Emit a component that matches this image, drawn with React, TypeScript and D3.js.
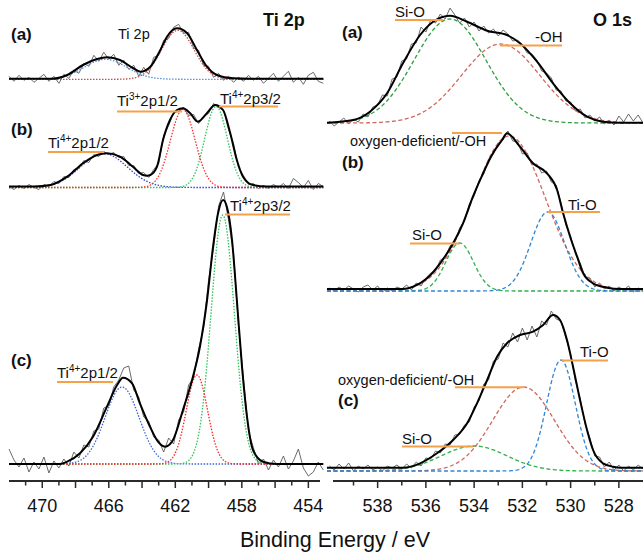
import React from "react";
import * as d3 from "d3";

// raw spectra: energy grids (eV) and intensities above each baseline (a.u.)
const tiEnergy = d3.range(64).map((i) => 472 - 0.3 * i);
const oEnergy = d3.range(66).map((i) => 540 - 0.2 * i);

const tiRawA = [3, -2, 4, -1, 2, -3, 1, 5, -2, 3, -4, 5, 1, 9, 6, 16, 13, 24, 18, 27, 20, 25, 14, 19, 10, 14, 3, 12, 5, 22, 24, 39, 41, 52, 55, 46, 47, 31, 29, 14, 13, 2, 6, -1, 3, -3, 2, -2, 4, -1, 3, -4, 1, 6, -2, 3, 8, -3, 2, -5, 4, 7, -2, -4];
const tiRawB = [1, -2, 2, -1, 3, 0, -2, 3, 1, 6, 4, 11, 10, 18, 19, 27, 25, 33, 31, 36, 33, 35, 30, 31, 22, 22, 14, 15, 10, 18, 24, 52, 62, 75, 76, 80, 72, 73, 64, 71, 74, 84, 80, 77, 58, 44, 20, 12, 3, 4, -1, 2, -1, 3, 0, 4, -1, 9, 5, 0, 7, -2, 4, 1];
const tiRawC = [15, 4, -3, 6, -8, 2, -5, 7, -9, 3, -4, 5, -2, 12, 6, 19, 17, 33, 35, 56, 58, 77, 84, 96, 98, 74, 67, 47, 43, 27, 24, 12, 26, 20, 44, 52, 79, 86, 115, 136, 184, 216, 258, 272, 244, 210, 138, 85, 33, 16, 0, 5, -6, 4, -3, 8, -5, 3, 15, -4, -12, -8, 2, -6];

const oRawA = [2, -3, 1, 5, -1, 4, 1, 9, 6, 16, 18, 28, 27, 44, 46, 62, 64, 79, 80, 96, 91, 103, 100, 109, 104, 115, 108, 100, 105, 96, 101, 92, 97, 90, 94, 87, 93, 89, 82, 83, 78, 70, 69, 63, 52, 50, 45, 33, 32, 22, 21, 12, 14, 5, 8, 2, 6, -1, 3, -2, 7, 1, 9, 2, 8, 0];
const oRawB = [3, 0, 4, 1, 5, 2, -1, 4, 6, 1, 5, -1, 3, 0, 4, 2, 6, 1, 8, 5, 13, 18, 20, 31, 34, 45, 49, 63, 70, 87, 95, 110, 117, 132, 137, 148, 151, 160, 150, 149, 137, 138, 126, 127, 118, 120, 109, 106, 88, 66, 55, 37, 28, 14, 13, 4, 8, 2, 5, 0, 4, 1, 5, -1, 3, 0];
const oRawC = [5, 1, 7, 2, 8, 0, 5, 2, 6, 1, 4, 0, 5, 3, 6, 2, 7, 3, 9, 5, 13, 12, 20, 18, 27, 26, 36, 37, 46, 49, 64, 70, 87, 91, 110, 112, 128, 124, 138, 129, 143, 131, 145, 134, 150, 146, 160, 152, 150, 133, 117, 90, 72, 47, 33, 15, 14, 4, 9, 1, 6, 0, 5, 1, 6, 2];

// fitted envelopes [eV, intensity]
const tiFitA: [number, number][] = [[472, 0.5], [469.5, 0.5], [468.5, 4.3], [467.55, 14.3], [466.7, 20.3], [466.1, 22], [465.33, 19.3], [464.55, 11.3], [464.1, 7.6], [463.5, 12.6], [462.9, 29.3], [462.5, 42.6], [461.9, 51], [461.3, 46.3], [460.7, 29.3], [460.1, 12.6], [459.5, 4.3], [458.5, 1], [457.5, 0.5], [453.1, 0.5]];
const tiFitB: [number, number][] = [[472, 1], [470.5, 1], [469.5, 2.5], [468.5, 10.8], [467.55, 24.2], [466.7, 32.5], [466.1, 34.2], [465.33, 30.8], [464.55, 20.8], [463.94, 12.5], [463.7, 11.8], [463.5, 12.5], [463.1, 20.8], [462.74, 47.5], [462.32, 67.5], [461.9, 77.5], [461.54, 79.2], [461.12, 74.5], [460.64, 65.8], [460.09, 74.5], [459.61, 82.5], [459.13, 77.5], [458.7, 54.5], [458.3, 27.5], [457.93, 10.8], [457.33, 2.5], [456.5, 1], [453.1, 1]];
const tiFitC: [number, number][] = [[472, 0], [468.93, 0], [468.5, 2.3], [467.73, 10.7], [466.95, 27.3], [466.11, 57.3], [465.5, 79], [465.15, 86.3], [464.6, 80.7], [464.13, 60.7], [463.52, 37.3], [463.04, 22.3], [462.62, 17.3], [462.14, 24], [461.54, 54], [460.94, 87.3], [460.52, 117.3], [460.09, 164], [459.73, 217.3], [459.43, 250.7], [459.13, 264], [458.9, 257.3], [458.59, 224], [458.3, 164], [457.99, 97.3], [457.69, 47.3], [457.33, 14], [456.73, 2.3], [455.9, 0], [453.1, 0]];

const oFitA: [number, number][] = [[540.1, 0.3], [539.0, 3], [538.32, 11.3], [537.61, 29.7], [536.95, 59.7], [536.24, 88], [535.7, 101.3], [535.0, 107.3], [534.29, 101.3], [533.46, 92.3], [532.64, 88], [532.1, 79.7], [531.39, 61.3], [530.73, 39.7], [530.02, 19.7], [529.32, 6.3], [528.66, 1.3], [527.95, 0.3], [527.0, 0.3]];
const oFitB: [number, number][] = [[540.1, 2], [536.95, 2], [536.53, 4.3], [535.95, 12.7], [535.41, 27.7], [534.87, 47.7], [534.46, 67.7], [534.05, 94.3], [533.63, 117.7], [533.22, 137.7], [532.84, 151], [532.64, 157.7], [532.1, 144.3], [531.56, 127.7], [530.98, 117.7], [530.56, 101], [530.31, 77.7], [530.02, 54.3], [529.73, 34.3], [529.48, 17.7], [529.07, 7.7], [528.49, 3.3], [527.95, 2], [527.0, 2]];
const oFitC: [number, number][] = [[540.1, 3.3], [536.95, 3.3], [536.24, 7.7], [535.54, 17.7], [534.87, 31], [534.29, 47.7], [533.88, 67.7], [533.46, 91], [533.05, 114.3], [532.64, 127.7], [532.1, 136], [531.56, 139.3], [531.14, 146], [530.73, 156], [530.44, 151], [530.15, 131], [529.9, 104.3], [529.61, 71], [529.32, 41], [529.07, 21], [528.66, 7.7], [528.24, 4.3], [527.95, 3.3], [527.0, 3.3]];

// gaussian components: centre (eV), fwhm (eV), height
const tiCenters = [[466.2, 461.85], [466.3, 459.55, 461.55], [465.2, 459.15, 460.7]];
const tiFwhm = [[3.0, 2.3], [3.3, 1.6, 1.75], [2.4, 1.65, 1.5]];
const tiHeights = [[20, 49], [34, 81, 78], [77, 249, 89]];
const oCenters = [[535.0, 532.9], [534.6, 532.55, 530.95], [534.0, 531.95, 530.4]];
const oFwhm = [[3.5, 3.8], [1.35, 3.5, 1.65], [3.2, 3.0, 1.4]];
const oHeights = [[104, 79], [48, 155, 79], [25, 84, 111]];

const tiTicks = d3.range(454, 472);
const tiTickLabels = [470, 466, 462, 458, 454];
const oTicks = d3.range(528, 540);
const oTickLabels = [538, 536, 534, 532, 530, 528];

const xTi = d3.scaleLinear().domain([472, 453.3]).range([9, 320]);
const xO = d3.scaleLinear().domain([539.85, 527]).range([333, 643]);
const yScale = d3.scaleLinear().domain([0, 481]).range([481, 0]);

const tiOffsets = [401.7, 293.5, 17];
const oOffsets = [358, 190, 10];
const tiColors = [["#5a8ee0", "#c0504d"], ["#3442d8", "#2ec45a", "#ff2d2d"], ["#3a64dc", "#2fc257", "#ff2424"]];
const oColors = [["#2f9e3f", "#d0675d"], ["#2fb04a", "#d0675d", "#2e86d6"], ["#2fb04a", "#d0675d", "#2e86d6"]];
const ORANGE = "#f5a04a";

const gauss = (e: number, c: number, w: number, h: number) => h * Math.exp((-4 * Math.LN2 * (e - c) * (e - c)) / (w * w));

function Spectrum({ x, off, energy, raw, fit, centers, fwhm, heights, colors, dash, grid }: any) {
  const y = (v: number) => yScale(off + v);
  const line = d3.line<[number, number]>().x((d) => x(d[0])).y((d) => y(d[1]));
  const smooth = d3.line<[number, number]>().x((d) => x(d[0])).y((d) => y(d[1])).curve(d3.curveMonotoneX);
  const rawPts = energy.map((e: number, i: number) => [e, raw[i]] as [number, number]);
  return (
    <g>
      <path d={line(rawPts) || ""} fill="none" stroke="#5a5a5a" strokeWidth={0.9} strokeLinejoin="round" />
      {centers.map((c: number, j: number) => (
        <path
          key={j}
          d={line(grid.map((e: number) => [e, gauss(e, c, fwhm[j], heights[j])] as [number, number])) || ""}
          fill="none"
          stroke={colors[j]}
          strokeWidth={1.3}
          strokeDasharray={dash}
        />
      ))}
      <path d={smooth(fit) || ""} fill="none" stroke="#000" strokeWidth={2} />
    </g>
  );
}

const TiLabel = ({ x, y, ion, orbital }: any) => (
  <text x={x} y={y} fontSize={15}>
    Ti<tspan dy={-6} fontSize={10}>{ion}</tspan>
    <tspan dy={6}>{orbital}</tspan>
  </text>
);

const Under = ({ x1, x2, y }: any) => <line x1={x1} x2={x2} y1={y} y2={y} stroke={ORANGE} strokeWidth={2} />;

export default function App() {
  const tiGrid = d3.range(472, 453.05, -0.05);
  const oGrid = d3.range(540.1, 526.95, -0.05);
  const tiRaw = [tiRawA, tiRawB, tiRawC];
  const tiFit = [tiFitA, tiFitB, tiFitC];
  const oRaw = [oRawA, oRawB, oRawC];
  const oFit = [oFitA, oFitB, oFitC];

  return (
    <svg
      width={643}
      height={553}
      style={{ position: "absolute", left: 0, top: 0, background: "#fff" }}
      fontFamily="'Liberation Sans', Arial, Helvetica, sans-serif"
      fill="#111"
    >
      {tiOffsets.map((off, k) => (
        <Spectrum key={"ti" + k} x={xTi} off={off} energy={tiEnergy} raw={tiRaw[k]} fit={tiFit[k]}
          centers={tiCenters[k]} fwhm={tiFwhm[k]} heights={tiHeights[k]} colors={tiColors[k]} dash="1.5 1.5" grid={tiGrid} />
      ))}
      {oOffsets.map((off, k) => (
        <Spectrum key={"o" + k} x={xO} off={off} energy={oEnergy} raw={oRaw[k]} fit={oFit[k]}
          centers={oCenters[k]} fwhm={oFwhm[k]} heights={oHeights[k]} colors={oColors[k]} dash="4 2.5" grid={oGrid} />
      ))}

      {/* axes */}
      <line x1={9} x2={320} y1={481} y2={481} stroke="#2a2a2a" strokeWidth={2} />
      <line x1={333} x2={643} y1={481} y2={481} stroke="#2a2a2a" strokeWidth={2} />
      {tiTicks.map((t) => (
        <line key={"tt" + t} x1={xTi(t)} x2={xTi(t)} y1={481} y2={481 + (t % 2 === 0 ? 7 : 4.5)} stroke="#2a2a2a" strokeWidth={1.5} />
      ))}
      {oTicks.map((t) => (
        <line key={"ot" + t} x1={xO(t)} x2={xO(t)} y1={481} y2={481 + (t % 2 === 0 ? 7 : 4.5)} stroke="#2a2a2a" strokeWidth={1.5} />
      ))}
      {tiTickLabels.map((t) => (
        <text key={"tl" + t} x={xTi(t)} y={512} fontSize={18} textAnchor="middle">{t}</text>
      ))}
      {oTickLabels.map((t) => (
        <text key={"ol" + t} x={xO(t)} y={512} fontSize={18} textAnchor="middle">{t}</text>
      ))}
      <text x={335} y={547} fontSize={21.5} textAnchor="middle">Binding Energy / eV</text>

      {/* Ti 2p labels */}
      <text x={263} y={26} fontSize={18} fontWeight="bold">Ti 2p</text>
      <text x={11} y={40} fontSize={17} fontWeight="bold">(a)</text>
      <text x={118} y={39} fontSize={14.5}>Ti 2p</text>
      <text x={11} y={135} fontSize={17} fontWeight="bold">(b)</text>
      <Under x1={117} x2={182} y={111.5} />
      <TiLabel x={117} y={106} ion="3+" orbital="2p1/2" />
      <Under x1={219} x2={278} y={106.5} />
      <TiLabel x={220} y={104} ion="4+" orbital="2p3/2" />
      <Under x1={48} x2={104} y={152} />
      <TiLabel x={48} y={148} ion="4+" orbital="2p1/2" />
      <text x={11} y={366} fontSize={17} fontWeight="bold">(c)</text>
      <Under x1={57} x2={113} y={382} />
      <TiLabel x={57} y={378} ion="4+" orbital="2p1/2" />
      <Under x1={225} x2={290} y={214.5} />
      <TiLabel x={230} y={211} ion="4+" orbital="2p3/2" />

      {/* O 1s labels */}
      <text x={593} y={26} fontSize={18} fontWeight="bold">O 1s</text>
      <text x={342} y={38} fontSize={17} fontWeight="bold">(a)</text>
      <Under x1={395} x2={443} y={20} />
      <text x={395} y={17} fontSize={15}>Si-O</text>
      <Under x1={500} x2={562} y={45.5} />
      <text x={535} y={42} fontSize={15}>-OH</text>
      <text x={342} y={168} fontSize={17} fontWeight="bold">(b)</text>
      <Under x1={452} x2={502} y={133} />
      <text x={350} y={146} fontSize={14.5}>oxygen-deficient/-OH</text>
      <Under x1={410} x2={460} y={243.5} />
      <text x={412} y={240} fontSize={15}>Si-O</text>
      <Under x1={548} x2={600} y={212} />
      <text x={568} y={210} fontSize={15}>Ti-O</text>
      <text x={338} y={406} fontSize={17} fontWeight="bold">(c)</text>
      <Under x1={455} x2={523} y={387.3} />
      <text x={338} y={385} fontSize={14.5}>oxygen-deficient/-OH</text>
      <Under x1={402} x2={473} y={446.5} />
      <text x={402} y={444} fontSize={15}>Si-O</text>
      <Under x1={562} x2={608} y={360.5} />
      <text x={580} y={357} fontSize={15}>Ti-O</text>
    </svg>
  );
}
